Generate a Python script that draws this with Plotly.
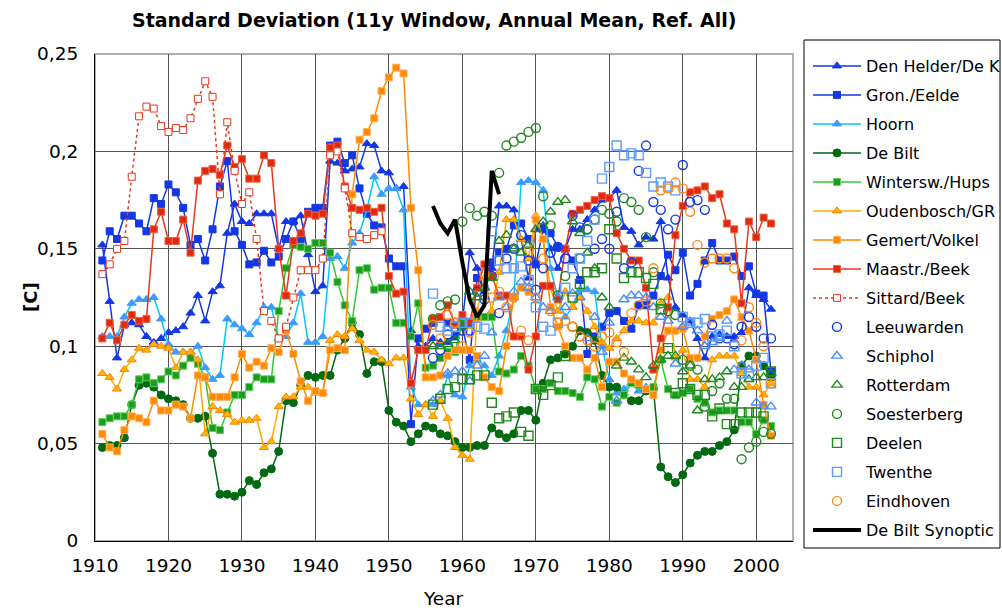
import plotly.graph_objects as go

# ---------------- data ----------------
start_long = 1911
start_short = 1956

den_helder = [0.152,0.123,0.094,0.111,0.112,0.111,0.105,0.102,0.104,0.107,0.108,0.110,0.117,0.126,0.113,0.128,0.131,0.158,0.173,0.164,
              0.163,0.168,0.168,0.168,0.150,0.164,0.164,0.167,0.147,0.128,0.131,0.195,0.194,0.190,0.191,0.192,0.204,0.203,0.190,0.189,
              0.181,0.182,0.108,0.100,0.100,0.104,0.102,0.102,0.105,0.112,0.148,0.140,0.128,0.140,0.172,0.172,0.170,0.155,0.135,0.160,
              0.162,0.150,0.140,0.150,0.160,0.160,0.165,0.170,0.175,0.176,0.180,0.161,0.159,0.152,0.156,0.155,0.164,0.135,0.120,0.116,
              0.113,0.104,0.094,0.105,0.106,0.105,0.105,0.107,0.130,0.126,0.124,0.119]
gron_eelde = [0.144,0.159,0.155,0.167,0.167,0.163,0.159,0.176,0.173,0.183,0.179,0.171,0.152,0.155,0.144,0.160,0.182,0.195,0.159,0.152,
              0.142,0.143,0.149,0.143,0.146,0.155,0.164,0.155,0.169,0.171,0.171,0.203,0.205,0.194,0.198,0.181,0.168,0.162,0.161,0.145,
              0.141,0.141,0.060,0.104,0.109,0.112,0.115,0.112,0.105,0.110,0.093,0.135,0.130,0.143,0.148,0.150,0.162,0.163,0.155,0.142,
              0.160,0.158,0.151,0.150,0.144,0.134,0.096,0.105,0.110,0.117,0.118,0.113,0.109,0.121,0.121,0.126,0.136,0.147,0.139,0.148,
              0.126,0.132,0.144,0.153,0.144,0.144,0.146,0.136,0.141,0.127,0.126,0.087]
hoorn = [0.105,0.105,0.105,0.115,0.122,0.124,0.124,0.125,0.114,0.101,0.097,0.097,0.097,0.100,0.089,0.083,0.085,0.114,0.111,0.109,
         0.106,0.112,0.120,0.120,0.104,0.105,0.112,0.127,0.102,0.102,0.105,0.145,0.146,0.140,0.153,0.158,0.170,0.187,0.178,0.181,
         0.181,0.170,0.079,0.070,0.070,0.070,0.072,0.085,0.075,0.074,0.090,0.093,0.090,0.085,0.095,0.108,0.125,0.184,0.185,0.184,
         0.180,0.140,0.125,0.115,0.120,0.129,0.129,0.128,0.100,0.083,0.076,0.078,0.081,0.077,0.079]
de_bilt = [0.048,0.049,0.049,0.053,0.070,0.080,0.081,0.079,0.075,0.073,0.072,0.070,0.063,0.063,0.064,0.045,0.024,0.024,0.023,0.025,
           0.031,0.029,0.035,0.037,0.046,0.072,0.071,0.080,0.085,0.084,0.085,0.085,0.098,0.104,0.112,0.106,0.086,0.092,0.092,0.067,
           0.061,0.059,0.051,0.055,0.059,0.058,0.055,0.054,0.051,0.048,0.048,0.049,0.049,0.058,0.055,0.053,0.055,0.067,0.067,0.062,
           0.081,0.093,0.094,0.096,0.100,0.108,0.107,0.103,0.085,0.079,0.079,0.075,0.072,0.072,0.077,0.078,0.038,0.033,0.030,0.034,
           0.040,0.044,0.046,0.046,0.049,0.051,0.057,0.090,0.095,0.095,0.090,0.084]
wintersw = [0.061,0.063,0.064,0.064,0.070,0.083,0.084,0.081,0.083,0.087,0.085,0.090,0.094,0.091,0.084,0.058,0.057,0.066,0.075,0.075,
            0.079,0.084,0.083,0.083,0.118,0.140,0.152,0.151,0.150,0.153,0.153,0.148,0.133,0.121,0.113,0.139,0.140,0.129,0.130,0.130,
            0.112,0.112,0.105,0.122,0.089,0.090,0.094,0.097,0.097,0.112,0.112,0.115,0.115,0.115,0.087,0.086,0.088,0.095,0.090,0.078,
            0.078,0.081,0.077,0.077,0.076,0.074,0.084,0.083,0.069,0.074,0.071,0.075,0.081,0.080,0.078,0.079,0.093,0.078,0.075,0.076,
            0.078,0.073,0.071,0.066,0.067,0.067,0.067,0.061,0.061,0.055,0.062,0.059]
oudenbosch = [0.086,0.084,0.078,0.088,0.093,0.099,0.098,0.101,0.100,0.099,0.089,0.097,0.097,0.093,0.055,0.069,0.067,0.065,0.061,0.062,
              0.062,0.063,0.048,0.051,0.069,0.074,0.074,0.079,0.079,0.076,0.076,0.103,0.106,0.105,0.109,0.103,0.098,0.097,0.093,0.091,
              0.094,0.094,0.073,0.065,0.070,0.064,0.072,0.063,0.048,0.044,0.042,0.118,0.135,0.118,0.138,0.165,0.165,0.155,0.145,0.167,
              0.155,0.130,0.118,0.128,0.120,0.125,0.118,0.110,0.102,0.099,0.104,0.108,0.113,0.113,0.112,0.112,0.122,0.125,0.094,0.098,
              0.083,0.083,0.079,0.093,0.095,0.095,0.095,0.086,0.079,0.079,0.075,0.081]
gemert = [0.055,0.048,0.046,0.057,0.064,0.063,0.061,0.072,0.067,0.067,0.070,0.069,0.063,0.085,0.084,0.074,0.074,0.074,0.084,0.096,
          0.089,0.092,0.090,0.099,0.097,0.108,0.096,0.082,0.072,0.077,0.076,0.098,0.099,0.098,0.178,0.206,0.210,0.217,0.231,0.238,
          0.243,0.240,0.171,0.139,0.084,0.084,0.085,0.095,0.098,0.098,0.098,0.095,0.084,0.079,0.077,0.100,0.125,0.130,0.128,0.165,
          0.155,0.120,0.110,0.100,0.094,0.094,0.088,0.094,0.079,0.092,0.092,0.086,0.083,0.081,0.078,0.075,0.098,0.108,0.108,0.109,
          0.094,0.094,0.105,0.114,0.116,0.118,0.124,0.115,0.108,0.093,0.070,0.054]
maastr = [0.104,0.112,0.103,0.111,0.116,0.113,0.114,0.160,0.169,0.154,0.154,0.165,0.148,0.185,0.190,0.191,0.188,0.203,0.192,0.196,
          0.186,0.186,0.198,0.194,0.150,0.126,0.154,0.158,0.168,0.167,0.168,0.202,0.203,0.182,0.171,0.170,0.171,0.169,0.171,0.136,
          0.127,0.128,0.081,0.098,0.098,0.114,0.115,0.121,0.111,0.116,0.112,0.130,0.142,0.136,0.126,0.126,0.105,0.105,0.088,0.105,
          0.131,0.131,0.124,0.150,0.168,0.170,0.172,0.175,0.177,0.176,0.158,0.150,0.144,0.144,0.130,0.088,0.104,0.120,0.157,0.172,
          0.179,0.180,0.182,0.176,0.178,0.163,0.160,0.122,0.164,0.156,0.166,0.163]
sittard = [0.137,0.142,0.150,0.154,0.187,0.218,0.223,0.222,0.213,0.210,0.212,0.211,0.217,0.227,0.236,0.228,0.178,0.215,0.190,0.173,
           0.179,0.155,0.118,0.113,0.104,0.110,0.125,0.139,0.139,0.139,0.145,0.198,0.200,0.181,0.158,0.156,0.155,0.157,0.159]
leeuwarden = [0.094,0.098,0.106,0.112,0.108,0.108,0.128,0.124,0.136,0.117,0.145,0.150,0.157,0.144,0.129,0.140,0.148,0.151,0.145,0.167,
              0.161,0.160,0.150,0.155,0.150,0.169,0.140,0.143,0.190,0.203,0.174,0.170,0.160,0.165,0.193,0.174,0.175,0.170,0.111,0.104,
              0.104,0.101,0.110,0.115,0.110,0.104,0.104]
schiphol = [0.072,0.075,0.086,0.087,0.087,0.082,0.090,0.095,0.107,0.125,0.120,0.128,0.133,0.130,0.125,0.120,0.118,0.125,0.120,0.127,
            0.125,0.104,0.115,0.097,0.112,0.072,0.124,0.126,0.126,0.125,0.120,0.115,0.113,0.091,0.110,0.112,0.108,0.100,0.102,0.104,
            0.113,0.088,0.090,0.088,0.071,0.069,0.069]
rotterdam = [0.100,0.100,0.101,0.103,0.110,0.128,0.125,0.130,0.135,0.154,0.157,0.150,0.148,0.152,0.160,0.164,0.169,0.174,0.175,0.164,
             0.158,0.148,0.140,0.125,0.120,0.090,0.094,0.092,0.088,0.084,0.090,0.093,0.095,0.095,0.087,0.090,0.067,0.083,0.083,0.084,
             0.087,0.079,0.079,0.083,0.084,0.084,0.086]
soesterberg = [0.114,0.121,0.123,0.124,0.164,0.171,0.167,0.169,0.167,0.189,0.203,0.205,0.207,0.210,0.212,0.177,0.162,0.126,0.136,0.110,
               0.145,0.160,0.165,0.170,0.168,0.164,0.176,0.174,0.170,0.156,0.138,0.122,0.118,0.116,0.093,0.090,0.088,0.069,0.077,0.081,
               0.073,0.073,0.042,0.048,0.051,0.056,0.055]
deelen = [0.070,0.073,0.078,0.079,0.083,0.083,0.085,0.085,0.071,0.063,0.064,0.066,0.056,0.054,0.078,0.075,0.080,0.084,0.095,0.125,
          0.132,0.138,0.138,0.140,0.160,0.145,0.135,0.138,0.138,0.135,0.132,0.119,0.099,0.076,0.081,0.078,0.075,0.075,0.064,0.068,
          0.060,0.060,0.066,0.066,0.066,0.064,0.087]
twenthe = [0.127,0.110,0.108,0.110,0.112,0.112,0.110,0.109,0.159,0.144,0.140,0.140,0.141,0.134,0.120,0.110,0.108,0.112,0.130,0.140,
           0.145,0.154,0.165,0.186,0.192,0.203,0.198,0.199,0.198,0.189,0.182,0.184,0.182,0.180,0.115,0.112,0.112,0.114,0.105,0.106,
           0.108,0.100,0.086,0.086,0.090,0.094,0.081]
eindhoven = [0.111,0.104,0.116,0.112,0.100,0.107,0.115,0.137,0.125,0.128,0.120,0.125,0.108,0.103,0.125,0.145,0.118,0.112,0.113,0.110,
             0.105,0.103,0.100,0.105,0.107,0.102,0.097,0.117,0.121,0.123,0.140,0.180,0.181,0.184,0.181,0.169,0.152,0.143,0.145,0.145,
             0.145,0.140,0.103,0.120,0.112,0.100,0.081]
synoptic_years = [1956,1957,1958,1959,1960,1961,1962,1963,1964,1965]
synoptic = [0.172,0.163,0.158,0.165,0.143,0.124,0.115,0.121,0.190,0.178]

y_tickvals = [0, 0.05, 0.1, 0.15, 0.2, 0.25]
y_ticktext = ["0", "0,05", "0,1", "0,15", "0,2", "0,25"]
x_tickvals = [1910, 1920, 1930, 1940, 1950, 1960, 1970, 1980, 1990, 2000]

def yrs(start, vals):
    return [start + i for i in range(len(vals))]

FONT = "DejaVu Sans, Verdana, sans-serif"
BLUE = "#1437e6"
fig = go.Figure()

def line_series(name, vals, start, lcolor, symbol, mcolor, mline=None, dash="solid", msize=7, lw=1.5):
    fig.add_trace(go.Scatter(
        x=yrs(start, vals), y=vals, name=name, mode="lines+markers",
        line=dict(color=lcolor, width=lw, dash=dash),
        marker=dict(symbol=symbol, size=msize, color=mcolor,
                    line=dict(color=mline or mcolor, width=1)),
        legendgroup=name))

def marker_series(name, vals, start, color, symbol, msize=9):
    fig.add_trace(go.Scatter(
        x=yrs(start, vals), y=vals, name=name, mode="markers",
        marker=dict(symbol=symbol, size=msize, color="rgba(0,0,0,0)",
                    line=dict(color=color, width=1.4)),
        legendgroup=name))

line_series("Den Helder/De K", den_helder, start_long, BLUE, "triangle-up", BLUE, msize=8)
line_series("Gron./Eelde", gron_eelde, start_long, BLUE, "square", BLUE)
line_series("Hoorn", hoorn, start_long, "#00c8ff", "triangle-up", "#3d9bff", msize=8)
line_series("De Bilt", de_bilt, start_long, "#006a10", "circle", "#006a10", msize=8)
line_series("Wintersw./Hups", wintersw, start_long, "#30c830", "square", "#1e9a1e", mline="#5cd05c")
line_series("Oudenbosch/GR", oudenbosch, start_long, "#ffa800", "triangle-up", "#ffb800", mline="#ff8000", msize=8)
line_series("Gemert/Volkel", gemert, start_long, "#ff8a00", "square", "#ff8a00", mline="#ffb060")
line_series("Maastr./Beek", maastr, start_long, "#e8381a", "square", "#e02a10", mline="#f06040")
line_series("Sittard/Beek", sittard, start_long, "#e8381a", "square", "#ffffff", mline="#e8381a", dash="dot", msize=7)
marker_series("Leeuwarden", leeuwarden, start_short, BLUE, "circle")
marker_series("Schiphol", schiphol, start_short, "#4d8cff", "triangle-up")
marker_series("Rotterdam", rotterdam, start_short, "#1e8a1e", "triangle-up")
marker_series("Soesterberg", soesterberg, start_short, "#1e8a1e", "circle")
marker_series("Deelen", deelen, start_short, "#1e8a1e", "square")
marker_series("Twenthe", twenthe, start_short, "#5c9cff", "square")
marker_series("Eindhoven", eindhoven, start_short, "#ff8a1a", "circle")
fig.add_trace(go.Scatter(x=synoptic_years, y=synoptic, name="De Bilt Synoptic", mode="lines",
                         line=dict(color="#000000", width=4), legendgroup="syn"))

# plot area geometry (pixels)
L, R, T, B = 95, 793, 54, 541
W, H = 1002, 608
pw, ph = R - L, B - T

def px_x(px):
    return (px - L) / pw

def px_y(py):
    return (B - py) / ph

fig.update_layout(
    width=W, height=H,
    margin=dict(l=L, r=W - R, t=T, b=H - B, pad=0, autoexpand=False),
    paper_bgcolor="white", plot_bgcolor="white",
    font=dict(family=FONT, size=16, color="#000000"),
    showlegend=True,
    legend=dict(x=px_x(808), y=px_y(49), xanchor="left", yanchor="top",
                xref="paper", yref="paper",
                bgcolor="rgba(0,0,0,0)", borderwidth=0,
                font=dict(family=FONT, size=16),
                traceorder="grouped", tracegroupgap=5.2, itemwidth=48,
                itemsizing="trace", maxheight=600),
    xaxis=dict(range=[1910, 2005], tickvals=x_tickvals, showgrid=True,
               gridcolor="#555555", gridwidth=1, zeroline=False,
               showline=True, linecolor="#000000", linewidth=1,
               ticks="outside", ticklen=8, tickcolor="rgba(0,0,0,0)",
               tickfont=dict(family=FONT, size=18.5)),
    yaxis=dict(range=[0, 0.25], tickvals=y_tickvals, ticktext=y_ticktext,
               showgrid=True, gridcolor="#555555", gridwidth=1, zeroline=False,
               showline=True, linecolor="#000000", linewidth=1,
               ticks="outside", ticklen=12, tickcolor="rgba(0,0,0,0)",
               tickfont=dict(family=FONT, size=18.5)),
    shapes=[
        dict(type="rect", xref="paper", yref="paper", x0=0, x1=1, y0=0, y1=1,
             line=dict(color="#b0b0b0", width=2), layer="below"),
        dict(type="rect", xref="paper", yref="paper",
             x0=px_x(804), x1=px_x(1000), y0=px_y(548), y1=px_y(40),
             line=dict(color="#000000", width=1), fillcolor="rgba(0,0,0,0)"),
    ],
    annotations=[
        dict(text="<b>Standard Deviation (11y Window, Annual Mean, Ref. All)</b>",
             xref="paper", yref="paper", x=px_x(434), y=px_y(20),
             xanchor="center", yanchor="middle", showarrow=False,
             font=dict(family=FONT, size=19)),
        dict(text="Year", xref="paper", yref="paper", x=px_x(443), y=px_y(598),
             xanchor="center", yanchor="middle", showarrow=False,
             font=dict(family=FONT, size=18.5)),
        dict(text="<b>[C]</b>", xref="paper", yref="paper", x=px_x(30), y=px_y(297),
             xanchor="center", yanchor="middle", showarrow=False, textangle=-90,
             font=dict(family=FONT, size=18)),
    ],
)

fig.write_html("out.html", config={"displayModeBar": False},
               post_script="document.body.style.margin='0';document.body.style.overflow='hidden';")
